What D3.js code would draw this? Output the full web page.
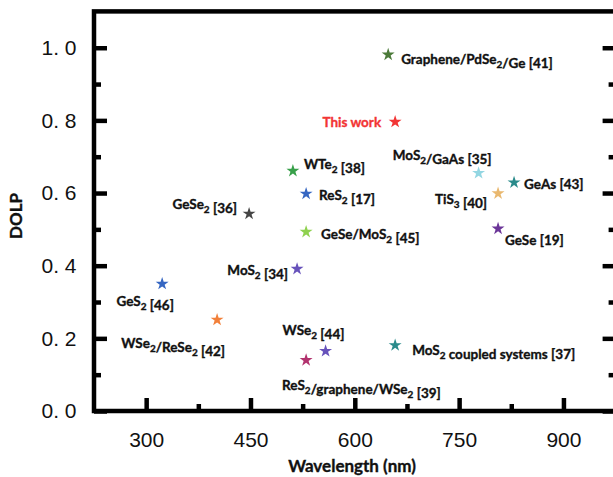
<!DOCTYPE html>
<html>
<head>
<meta charset="utf-8">
<script src="https://cdn.jsdelivr.net/npm/d3@7"></script>
<style>
  body { margin: 0; background: #fff; }
  .tick text { font-family: "Liberation Sans", Arial, sans-serif; font-size: 21px; fill: #111; }
  .lbl { font-family: Lato, "Open Sans", sans-serif; font-weight: bold; font-size: 13.5px; fill: #111; stroke: #111; stroke-width: 0.35px; }
</style>
</head>
<body>
<div id="chart"></div>
<script>
// data
var materials = [
  "Graphene/PdSe_2/Ge [41]", "This work", "WTe_2 [38]", "ReS_2 [17]",
  "GeSe_2 [36]", "GeSe/MoS_2 [45]", "MoS_2 [34]", "GeS_2 [46]",
  "WSe_2/ReSe_2 [42]", "WSe_2 [44]", "ReS_2/graphene/WSe_2 [39]",
  "MoS_2 coupled systems [37]", "MoS_2/GaAs [35]", "TiS_3 [40]",
  "GeAs [43]", "GeSe [19]"
];
var wavelengths = [648, 658, 511, 530, 448, 530, 517, 323, 402, 558, 530, 658, 778, 806, 829, 806];
var dolp = [0.981, 0.796, 0.661, 0.598, 0.543, 0.493, 0.391, 0.350, 0.251, 0.165, 0.140, 0.181, 0.655, 0.599, 0.629, 0.502];
var colors = [
  "#4b7a39", "#f23535", "#38a04a", "#3566c2",
  "#454545", "#8fd14f", "#6752bb", "#3566c2",
  "#f2803a", "#6752bb", "#b2326e",
  "#2a8b8b", "#93d6e2", "#e9b86f",
  "#2a8b8b", "#6b3598"
];
var xTicks = [300, 450, 600, 750, 900];
var xMinor = [375, 525, 675, 825];
var yTicks = [0, 0.2, 0.4, 0.6, 0.8, 1.0];
var yTickLabels = ["0. 0", "0. 2", "0. 4", "0. 6", "0. 8", "1. 0"];
var yMinor = [0.1, 0.3, 0.5, 0.7, 0.9];

// label placement relative to each star: dx, dy, anchor
var labelPos = [
  [13, 4, "start"], [-14, 0, "end"], [11, -7, "start"], [13, 1, "start"],
  [-12, -10, "end"], [15, 2, "start"], [-9, 1, "end"], [-17, 17, "middle"],
  [8, 23, "end"], [-43, -21, "start"], [-24, 25, "start"],
  [17, 5, "start"], [13, -18, "end"], [-11, 6, "end"],
  [10, 1, "start"], [7, 11, "start"]
];

var W = 613, H = 477;
var svg = d3.select("#chart").append("svg")
  .attr("width", W).attr("height", H);

var x = d3.scaleLinear().domain([225, 975]).range([94, 615.6]);
var y = d3.scaleLinear().domain([0, 1.1]).range([411, 11.4]);

function styleAxis(g) {
  g.select(".domain").remove();
  g.selectAll(".tick line").attr("stroke", "#000").attr("stroke-width", 4.5);
}

// x axis, major and minor ticks point inward
svg.append("g")
  .attr("transform", "translate(0," + y(0) + ")")
  .call(d3.axisBottom(x).tickValues(xTicks).tickSize(-13).tickPadding(21))
  .call(styleAxis);
svg.append("g")
  .attr("transform", "translate(0," + y(0) + ")")
  .call(d3.axisBottom(x).tickValues(xMinor).tickSize(-7).tickFormat(""))
  .call(styleAxis);

// y axis left
svg.append("g")
  .attr("transform", "translate(" + x(225) + ",0)")
  .call(d3.axisLeft(y).tickValues(yTicks).tickSize(-13).tickPadding(17.5)
    .tickFormat(function(d, i) { return yTickLabels[i]; }))
  .call(styleAxis);
svg.append("g")
  .attr("transform", "translate(" + x(225) + ",0)")
  .call(d3.axisLeft(y).tickValues(yMinor).tickSize(-7).tickFormat(""))
  .call(styleAxis);

// y axis right (ticks only)
svg.append("g")
  .attr("transform", "translate(" + x(975) + ",0)")
  .call(d3.axisRight(y).tickValues(yTicks).tickSize(-13).tickFormat(""))
  .call(styleAxis);
svg.append("g")
  .attr("transform", "translate(" + x(975) + ",0)")
  .call(d3.axisRight(y).tickValues(yMinor).tickSize(-7).tickFormat(""))
  .call(styleAxis);

// frame
svg.append("rect")
  .attr("x", x(225)).attr("y", y(1.1))
  .attr("width", x(975) - x(225)).attr("height", y(0) - y(1.1))
  .attr("fill", "none").attr("stroke", "#000").attr("stroke-width", 4.5);

// axis titles
svg.append("text")
  .attr("class", "lbl")
  .attr("transform", "translate(22,216) rotate(-90)")
  .attr("text-anchor", "middle")
  .style("font-size", "17px")
  .text("DOLP");
svg.append("text")
  .attr("class", "lbl")
  .attr("x", 352).attr("y", 472)
  .attr("text-anchor", "middle")
  .style("font-size", "17px")
  .text("Wavelength (nm)");

// stars
var star = d3.symbol().type(d3.symbolStar).size(52);
svg.selectAll(".pt")
  .data(materials)
  .enter().append("path")
  .attr("class", "pt")
  .attr("transform", function(d, i) {
    return "translate(" + x(wavelengths[i]) + "," + y(dolp[i]) + ")";
  })
  .attr("d", star)
  .attr("fill", function(d, i) { return colors[i]; });

// labels with subscripts
var labels = svg.selectAll(".mlabel")
  .data(materials)
  .enter().append("text")
  .attr("class", "lbl mlabel")
  .attr("x", function(d, i) { return x(wavelengths[i]) + labelPos[i][0]; })
  .attr("y", function(d, i) { return y(dolp[i]) + labelPos[i][1] + 5; })
  .attr("text-anchor", function(d, i) { return labelPos[i][2]; })
  .style("fill", function(d) { return d === "This work" ? "#f23535" : "#111"; })
  .style("stroke", function(d) { return d === "This work" ? "#f23535" : "#111"; });

labels.each(function(d) {
  var t = d3.select(this);
  var parts = d.split(/_(\d)/);
  parts.forEach(function(p, k) {
    if (p === "") return;
    if (k % 2 === 1) {
      t.append("tspan").attr("dy", 4).style("font-size", "10px").text(p);
      t.append("tspan").attr("dy", -4).text("");
    } else {
      t.append("tspan").text(p);
    }
  });
});
</script>
</body>
</html>
